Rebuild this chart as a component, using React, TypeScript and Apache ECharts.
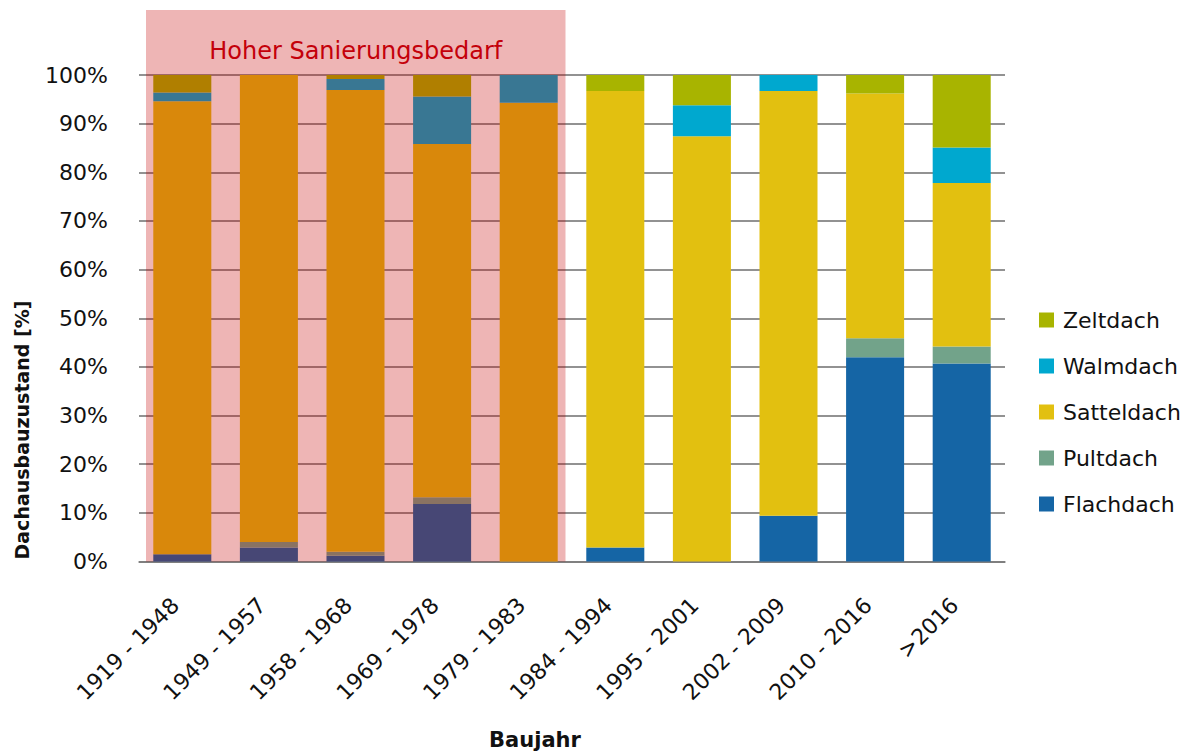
import React, { useEffect, useRef } from "react";
import * as echarts from "echarts";

const categories = [
  "1919 - 1948",
  "1949 - 1957",
  "1958 - 1968",
  "1969 - 1978",
  "1979 - 1983",
  "1984 - 1994",
  "1995 - 2001",
  "2002 - 2009",
  "2010 - 2016",
  ">2016",
];
const flachdach = [1.5, 2.9, 1.2, 11.8, 0, 2.9, 0, 9.4, 42.0, 40.7];
const pultdach = [0, 1.1, 0.8, 1.4, 0, 0, 0, 0, 3.9, 3.5];
const satteldach = [93.1, 96.0, 94.9, 72.6, 94.3, 93.8, 87.4, 87.3, 50.3, 33.6];
const walmdach = [1.8, 0, 2.3, 9.8, 5.7, 0, 6.4, 3.3, 0, 7.3];
const zeltdach = [3.6, 0, 0.8, 4.4, 0, 3.3, 6.2, 0, 3.8, 14.9];
const yTicks = [0, 10, 20, 30, 40, 50, 60, 70, 80, 90, 100];
const highlightCount = 5;
const highlightLabel = "Hoher Sanierungsbedarf";

const FONT = "DejaVu Sans";

export default function App() {
  const ref = useRef<HTMLDivElement>(null);
  useEffect(() => {
    if (!ref.current) return;
    const chart = echarts.init(ref.current, null, { renderer: "svg" });
    const mk = (name: string, data: number[], color: string) => ({
      name,
      type: "bar",
      stack: "total",
      data,
      barCategoryGap: "33%",
      itemStyle: { color },
      emphasis: { disabled: true },
    });
    chart.setOption({
      animation: false,
      backgroundColor: "#ffffff",
      textStyle: { fontFamily: FONT },
      grid: { left: 139, right: 186, top: 75, bottom: 192.5, containLabel: false },
      legend: {
        orient: "vertical",
        left: 1034,
        top: 304,
        itemWidth: 15,
        itemHeight: 15,
        itemGap: 24,
        icon: "rect",
        data: ["Zeltdach", "Walmdach", "Satteldach", "Pultdach", "Flachdach"],
        textStyle: { fontFamily: FONT, fontSize: 22, color: "#111", lineHeight: 22, padding: [0, 0, 0, 4] },
      },
      xAxis: {
        type: "category",
        data: categories,
        axisLine: { show: true, lineStyle: { color: "#7a7a7a", width: 1.5 } },
        axisTick: { show: false },
        axisLabel: {
          rotate: 45,
          interval: 0,
          fontSize: 22,
          color: "#111",
          fontFamily: FONT,
          margin: 33,
          padding: [0, 10, 0, 0],
        },
      },
      yAxis: {
        type: "value",
        min: yTicks[0],
        max: yTicks[yTicks.length - 1],
        interval: 10,
        axisLine: { show: false },
        axisTick: { show: false },
        axisLabel: { formatter: "{value}%", fontSize: 22, color: "#111", fontFamily: FONT, margin: 31 },
        splitLine: { lineStyle: { color: "#6e6e6e", width: 1.5 } },
      },
      series: [
        mk("Flachdach", flachdach, "#1565a5"),
        mk("Pultdach", pultdach, "#72a38a"),
        mk("Satteldach", satteldach, "#e2c010"),
        mk("Walmdach", walmdach, "#00a8cf"),
        mk("Zeltdach", zeltdach, "#a8b400"),
      ],
    });

    const c0 = chart.convertToPixel({ xAxisIndex: 0 }, categories[0]) as number;
    const c1 = chart.convertToPixel({ xAxisIndex: 0 }, categories[1]) as number;
    const cN = chart.convertToPixel({ xAxisIndex: 0 }, categories[highlightCount - 1]) as number;
    const bw = c1 - c0;
    const left = c0 - bw / 2 + 7;
    const right = cN + bw / 2 - 6.5;
    const yBottom = chart.convertToPixel({ yAxisIndex: 0 }, 0) as number;
    const top = 10;

    chart.setOption({
      graphic: [
        {
          type: "rect",
          z: 100,
          shape: { x: left, y: top, width: right - left, height: yBottom - top },
          style: { fill: "rgba(196,0,0,0.29)" },
          silent: true,
        },
        {
          type: "text",
          z: 101,
          x: (left + right) / 2,
          y: 51,
          style: {
            text: highlightLabel,
            fill: "#c4000a",
            font: `24px '${FONT}'`,
            textAlign: "center",
            textVerticalAlign: "middle",
          },
          silent: true,
        },
        {
          type: "text",
          z: 101,
          x: 22,
          y: 430,
          rotation: Math.PI / 2,
          style: {
            text: "Dachausbauzustand [%]",
            fill: "#111",
            font: `bold 19px '${FONT}'`,
            textAlign: "center",
            textVerticalAlign: "middle",
          },
          silent: true,
        },
        {
          type: "text",
          z: 101,
          x: 535,
          y: 740,
          style: {
            text: "Baujahr",
            fill: "#111",
            font: `bold 21px '${FONT}'`,
            textAlign: "center",
            textVerticalAlign: "middle",
          },
          silent: true,
        },
      ],
    });

    return () => chart.dispose();
  }, []);
  return (
    <div
      ref={ref}
      style={{ position: "fixed", left: 0, top: 0, width: 1191, height: 754, background: "#fff" }}
    />
  );
}
